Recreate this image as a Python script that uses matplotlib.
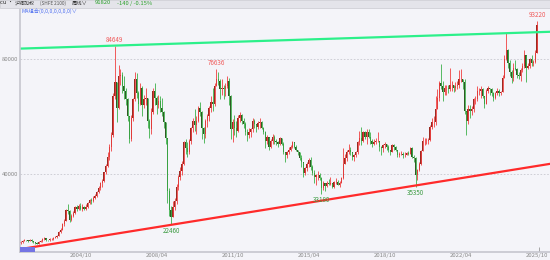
import numpy as np
import pandas as pd
import matplotlib
matplotlib.use('Agg')
import matplotlib.pyplot as plt
from matplotlib.patches import Rectangle

plt.rcParams['font.family'] = ['Noto Sans CJK SC', 'DejaVu Sans']

# monthly candles, 2002/01 .. 2025/10, values in thousand yuan/ton
first_open = 16.0
close_k = [
    16.3, 16.8, 17.0, 16.9, 16.8, 17.2, 16.6, 16.2, 16.1, 15.8, 16.5, 16.6,  # 2002
    17.3, 17.6, 17.0, 16.9, 17.4, 17.5, 17.8, 18.0, 18.5, 20.0, 20.6, 22.6,  # 2003
    23.8, 27.5, 27.2, 24.0, 25.5, 26.5, 28.5, 27.8, 29.0, 28.0, 28.6, 28.0,  # 2004
    28.6, 29.8, 31.0, 30.5, 31.8, 32.5, 33.6, 35.0, 37.0, 37.5, 40.6, 42.8,  # 2005
    46.0, 49.5, 53.5, 67.0, 72.0, 63.0, 74.0, 74.5, 70.5, 69.0, 66.0, 60.0,  # 2006
    52.0, 59.5, 66.0, 73.0, 68.0, 64.5, 70.0, 64.0, 66.0, 66.5, 58.5, 55.5,  # 2007
    61.5, 69.0, 66.5, 64.0, 65.5, 63.0, 61.5, 58.0, 52.5, 34.0, 27.5, 25.0,  # 2008
    28.5, 30.5, 35.5, 39.0, 41.0, 43.5, 51.0, 49.0, 47.5, 51.5, 56.0, 58.5,  # 2009
    57.0, 58.5, 63.0, 61.5, 56.0, 54.0, 58.5, 60.0, 63.0, 65.0, 64.5, 70.5,  # 2010
    73.0, 72.5, 69.5, 70.0, 69.5, 70.5, 72.5, 67.0, 55.5, 58.0, 56.0, 55.0,  # 2011
    59.5, 60.5, 58.5, 57.5, 54.5, 53.5, 54.5, 55.5, 58.5, 57.5, 56.5, 57.8,  # 2012
    58.0, 56.0, 54.5, 51.5, 53.0, 49.5, 51.5, 53.0, 51.5, 51.0, 50.5, 52.5,  # 2013
    50.5, 47.5, 46.5, 47.5, 48.5, 49.5, 51.0, 49.5, 48.5, 47.5, 45.5, 44.0,  # 2014
    40.5, 42.0, 43.5, 45.0, 42.5, 40.5, 39.0, 39.5, 39.5, 38.5, 35.0, 37.0,  # 2015
    35.8, 36.8, 36.5, 36.7, 35.5, 37.2, 37.3, 36.3, 37.0, 38.5, 43.5, 45.5,  # 2016
    47.5, 48.5, 47.5, 46.0, 46.5, 47.5, 51.0, 52.5, 51.5, 54.5, 53.0, 54.5,  # 2017
    53.0, 51.5, 50.5, 51.0, 51.5, 51.5, 49.5, 49.0, 50.0, 50.5, 49.5, 48.5,  # 2018
    47.8, 50.0, 49.5, 48.5, 46.5, 47.0, 47.0, 46.5, 46.7, 47.2, 47.0, 49.0,  # 2019
    46.0, 45.5, 39.5, 41.5, 43.5, 48.0, 51.5, 51.5, 51.5, 51.8, 56.5, 58.0,  # 2020
    58.0, 62.5, 66.5, 71.5, 70.5, 68.5, 70.0, 70.0, 69.5, 71.0, 71.0, 70.0,  # 2021
    70.5, 71.0, 73.0, 73.0, 72.0, 62.0, 58.5, 62.5, 62.0, 62.5, 66.0, 66.0,  # 2022
    69.0, 69.0, 69.5, 67.0, 64.5, 69.0, 70.0, 69.5, 68.0, 66.5, 68.0, 69.0,  # 2023
    68.0, 68.5, 73.5, 80.0, 83.0, 78.5, 75.5, 73.5, 77.0, 76.5, 74.5, 74.0,  # 2024
    76.0, 77.5, 81.5, 77.0, 77.5, 80.0, 78.5, 79.0, 82.0, 91.82,             # 2025
]
high_k = [
    16.6, 17.0, 17.4, 17.2, 17.1, 17.5, 17.3, 16.8, 16.5, 16.3, 16.7, 16.9,
    17.6, 18.0, 17.8, 17.2, 17.6, 17.8, 18.0, 18.3, 18.9, 20.3, 21.2, 22.8,
    24.5, 28.0, 29.4, 27.6, 26.0, 27.2, 29.0, 29.3, 29.4, 29.8, 29.5, 28.7,
    29.4, 30.2, 31.4, 31.5, 32.2, 33.2, 34.2, 35.8, 37.2, 38.4, 40.8, 43.5,
    47.5, 50.5, 54.5, 68.0, 84.649, 72.0, 78.0, 76.5, 75.5, 74.0, 70.0, 66.5,
    60.0, 60.5, 66.5, 75.5, 75.0, 69.0, 71.5, 70.5, 67.5, 70.0, 66.5, 59.0,
    63.0, 70.0, 71.5, 67.0, 67.5, 67.0, 66.5, 62.0, 58.0, 52.5, 35.0, 29.0,
    30.5, 31.5, 36.5, 39.8, 42.5, 44.5, 51.5, 52.0, 51.0, 52.0, 56.5, 59.5,
    62.5, 60.0, 63.5, 65.0, 62.0, 56.5, 59.0, 61.0, 63.5, 67.0, 70.0, 71.5,
    76.636, 75.5, 73.0, 73.0, 71.0, 71.5, 74.0, 73.5, 67.5, 59.0, 60.5, 58.5,
    60.5, 61.5, 61.0, 59.5, 58.0, 55.5, 56.0, 56.0, 59.5, 59.0, 57.5, 58.3,
    59.5, 58.5, 56.5, 55.0, 53.5, 53.0, 52.0, 54.0, 53.5, 52.0, 51.5, 53.0,
    52.5, 51.0, 47.8, 48.0, 49.5, 50.0, 51.5, 51.3, 50.0, 48.5, 47.8, 46.5,
    44.0, 42.5, 44.0, 45.5, 46.0, 43.0, 41.5, 40.0, 41.0, 40.5, 38.8, 37.5,
    37.0, 37.5, 38.3, 39.0, 37.0, 37.5, 38.5, 38.0, 37.5, 39.0, 49.0, 47.0,
    48.5, 50.5, 49.5, 47.5, 47.0, 48.0, 51.5, 55.0, 56.5, 55.0, 55.0, 55.5,
    55.5, 54.5, 52.0, 52.0, 52.5, 54.5, 51.5, 49.8, 50.5, 51.0, 50.5, 50.0,
    48.5, 50.5, 50.5, 49.8, 48.5, 47.5, 48.0, 47.5, 47.5, 47.5, 48.0, 49.5,
    49.5, 46.5, 46.0, 41.8, 44.0, 48.5, 53.0, 52.5, 52.5, 52.5, 57.0, 59.5,
    60.0, 67.0, 69.5, 72.5, 78.3, 72.5, 71.0, 71.0, 71.0, 77.0, 72.5, 71.0,
    72.0, 72.5, 76.0, 76.5, 73.0, 73.0, 62.0, 64.0, 64.0, 63.5, 66.5, 67.0,
    70.5, 70.0, 70.5, 70.0, 67.0, 69.5, 70.5, 70.0, 70.0, 68.5, 68.5, 70.0,
    69.5, 69.0, 74.5, 81.5, 88.9, 83.5, 79.5, 76.0, 78.5, 79.5, 77.0, 75.5,
    77.0, 78.5, 83.0, 81.5, 78.5, 80.5, 81.5, 79.5, 83.0, 93.22,
]
low_k = [
    15.7, 16.1, 16.6, 16.6, 16.5, 16.7, 16.4, 16.0, 15.6, 15.5, 15.7, 16.3,
    16.5, 17.1, 16.8, 16.6, 16.8, 17.2, 17.2, 17.6, 17.9, 18.4, 19.6, 20.4,
    22.0, 23.6, 26.0, 23.2, 23.5, 25.0, 26.2, 27.0, 27.4, 27.5, 27.2, 27.5,
    27.6, 28.2, 29.6, 29.6, 30.2, 31.2, 32.0, 33.4, 34.6, 35.4, 37.2, 40.0,
    42.5, 45.0, 48.0, 53.0, 66.0, 58.0, 62.5, 71.0, 68.0, 66.0, 64.0, 58.5,
    50.8, 51.5, 58.5, 65.5, 66.5, 62.0, 64.0, 60.0, 63.0, 64.0, 56.0, 52.6,
    54.0, 61.0, 64.0, 61.0, 63.0, 61.5, 60.0, 56.0, 50.5, 30.0, 25.5, 22.46,
    25.0, 27.5, 29.5, 34.5, 38.0, 39.5, 43.0, 47.0, 46.0, 47.0, 50.5, 54.5,
    55.0, 54.0, 58.0, 60.0, 52.0, 50.8, 52.5, 56.5, 58.5, 61.5, 62.0, 63.5,
    70.5, 71.0, 66.0, 67.5, 66.0, 67.0, 70.0, 64.0, 52.0, 51.0, 53.5, 53.0,
    54.5, 58.0, 57.5, 56.0, 53.5, 51.5, 52.5, 53.0, 54.5, 56.0, 54.5, 55.5,
    56.0, 55.5, 54.0, 49.0, 50.5, 48.5, 49.0, 50.5, 50.5, 50.0, 49.5, 50.0,
    50.0, 47.0, 44.0, 45.5, 47.0, 48.0, 49.0, 49.0, 48.0, 46.5, 45.0, 42.5,
    39.0, 39.5, 41.0, 42.5, 41.5, 39.5, 37.0, 36.0, 38.0, 38.0, 33.18, 34.5,
    34.0, 35.5, 36.0, 36.0, 35.0, 35.0, 36.5, 36.0, 35.5, 36.8, 38.3, 44.0,
    44.5, 47.0, 46.5, 45.0, 44.5, 46.0, 47.0, 50.0, 50.0, 51.0, 52.0, 50.5,
    52.5, 50.5, 49.5, 50.0, 50.5, 51.0, 48.0, 46.5, 47.5, 49.0, 48.5, 47.5,
    46.5, 47.5, 48.5, 48.0, 46.0, 46.0, 46.5, 45.5, 46.0, 46.5, 46.5, 46.8,
    45.5, 44.0, 35.35, 38.0, 41.0, 43.0, 48.0, 50.0, 50.5, 50.5, 51.5, 55.5,
    56.5, 57.0, 63.5, 65.5, 69.5, 65.5, 67.5, 67.5, 68.0, 69.0, 69.0, 68.5,
    69.0, 69.5, 70.0, 72.0, 69.5, 61.0, 53.5, 57.5, 59.5, 60.5, 61.5, 64.5,
    65.5, 67.5, 66.5, 66.5, 63.0, 64.5, 68.0, 67.5, 67.0, 65.5, 66.0, 67.5,
    67.0, 67.5, 68.5, 73.5, 79.5, 77.0, 74.0, 71.5, 72.5, 76.0, 73.5, 73.0,
    72.5, 75.5, 77.0, 72.0, 76.5, 77.0, 77.5, 77.5, 78.5, 82.0,
]

# marked extremes: (month, kind)
mark_months = ['2006-05', '2011-01', '2025-10', '2008-12', '2015-11', '2020-03']
mark_kinds = ['high', 'high', 'high', 'low', 'low', 'low']

# channel lines: values at 2002/01 and 2025/10
line_months = ['2002-01', '2025-10']
upper_line = [83620, 89320]
lower_line = [13900, 42800]

tick_months = ['2004-10', '2008-04', '2011-10', '2015-04', '2018-10', '2022-04', '2025-10']
tick_labels = ['2004/10', '2008/04', '2011/10', '2015/04', '2018/10', '2022/04', '2025/10']

months = pd.period_range('2002-01', periods=len(close_k), freq='M')
pos = {str(p): i for i, p in enumerate(months)}
c = np.array(close_k) * 1000
o = np.r_[first_open, close_k[:-1]] * 1000
h = np.maximum(np.array(high_k) * 1000, np.maximum(o, c))
l = np.minimum(np.array(low_k) * 1000, np.minimum(o, c))
x = np.arange(len(c))
up = c >= o

BG = '#f4f4f9'
UP_W, UP_B = '#f04040', '#9a2a22'
DN_W, DN_B = '#3cb04a', '#2f5a24'

fig = plt.figure(figsize=(5.5, 2.6), dpi=100, facecolor=BG)
ax = fig.add_axes([20 / 550, 8 / 260, 530 / 550, 243 / 260], facecolor=BG)

ax.vlines(x[up], l[up], h[up], color=UP_W, lw=0.6)
ax.vlines(x[~up], l[~up], h[~up], color=DN_W, lw=0.6)
ax.bar(x[up], (c - o)[up], bottom=o[up], width=0.7, color=UP_B, linewidth=0)
ax.bar(x[~up], (c - o)[~up], bottom=o[~up], width=0.7, color=DN_B, linewidth=0)

ax.axline((pos[line_months[0]], upper_line[0]), (pos[line_months[1]], upper_line[1]),
          color='#2cf08a', lw=1.6)
ax.axline((pos[line_months[0]], lower_line[0]), (pos[line_months[1]], lower_line[1]),
          color='#ff2a2a', lw=1.6)

for m, kind in zip(mark_months, mark_kinds):
    i = pos[m]
    if kind == 'high':
        ax.annotate(f'{h[i]:.0f}', (i, h[i]), xytext=(0, 1.5), textcoords='offset points',
                    ha='center', va='bottom', fontsize=4.5, color='#f05a5a')
    else:
        ax.annotate(f'{l[i]:.0f}', (i, l[i]), xytext=(0, -1.5), textcoords='offset points',
                    ha='center', va='top', fontsize=4.5, color='#3a9a40')

ax.set_xlim(-0.4, 292.2)
ax.set_ylim(12870, 97390)
ax.set_xticks([pos[m] for m in tick_months], tick_labels)
ax.set_yticks([40000, 80000], ['40000', '80000'])
ax.tick_params(axis='both', length=0, labelsize=4.3, colors='#8a8a8a', pad=1)
ax.grid(axis='y', color='#c8c8d0', linestyle=(0, (2, 2)), lw=0.6)
ax.set_axisbelow(True)
for s in ['top', 'right']:
    ax.spines[s].set_visible(False)
for s in ['left', 'bottom']:
    ax.spines[s].set_color('#c6c6ce')
    ax.spines[s].set_linewidth(1.2)

# small tick marking the last bar
ax.vlines(pos['2025-10'] + 1, 0, 0.02, transform=ax.get_xaxis_transform(), color='#999999', lw=0.6)

# header band
fig.patches.append(Rectangle((0, 252 / 260), 1, 8 / 260, transform=fig.transFigure,
                             facecolor='#e4e4ea', edgecolor='#d0d0d6', lw=0.6))
hy = 1 - 3 / 260
fig.text(0 / 550, hy, 'cu •', fontsize=4.2, color='#333333', va='center')
fig.text(15 / 550, hy, '沪铜加权', fontsize=3.6, color='#333333', va='center')
fig.text(40 / 550, hy, '(SHFE 2100)', fontsize=3.4, color='#555555', va='center')
fig.text(72 / 550, hy, '周线∨', fontsize=3.8, color='#333333', va='center')
fig.text(95 / 550, hy, '91820', fontsize=4.2, color='#2aa02a', va='center')
fig.text(117 / 550, hy, '-140 / -0.15%', fontsize=4.2, color='#2aa02a', va='center')
fig.text(22 / 550, 1 - 11 / 260, 'MA组合(0,0,0,0,0,0,0)∨', fontsize=3.8, color='#4a6cf0', va='center')

# selection box at bottom-left
fig.patches.append(Rectangle((20 / 550, 8.5 / 260), 15 / 550, 5 / 260, transform=fig.transFigure,
                             facecolor='#7474e4', edgecolor='none'))

fig.savefig('out.png', dpi=100, facecolor=BG)
